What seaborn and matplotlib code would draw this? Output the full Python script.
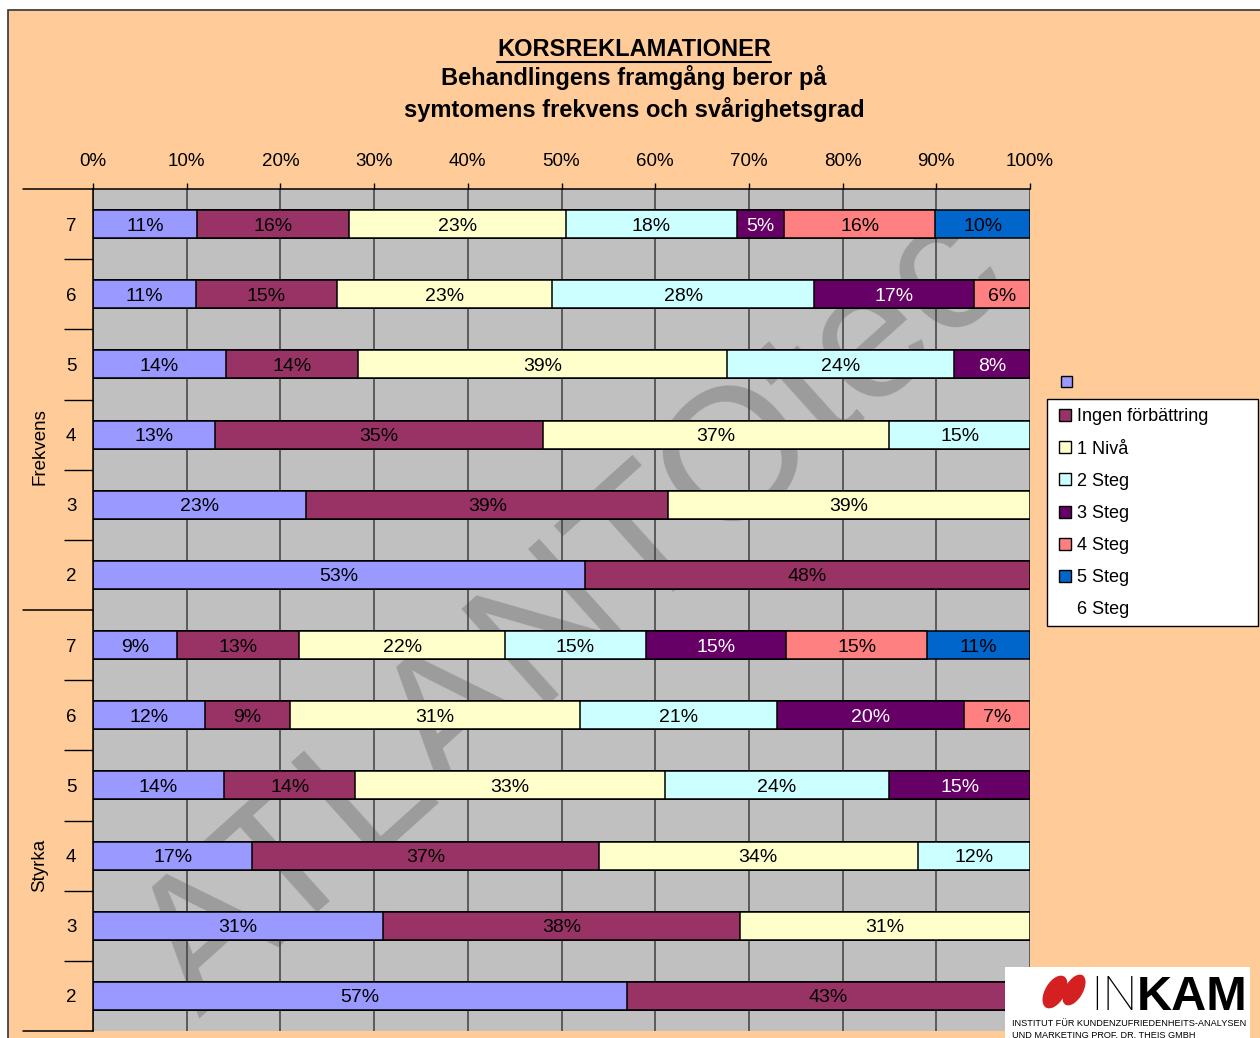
import pandas as pd
import matplotlib.pyplot as plt
import matplotlib.patches as mpatches
import matplotlib.transforms as mtransforms
from matplotlib.lines import Line2D
import seaborn as sns

sns.set_theme(style='white')
plt.rcParams['font.family'] = ['Liberation Sans', 'DejaVu Sans']
plt.rcParams.update({'text.color': 'black', 'axes.labelcolor': 'black',
                     'xtick.color': 'black', 'ytick.color': 'black'})

W, H = 1260, 1038

# rows from top to bottom: Frekvens 7..2, Styrka 7..2
rows = ['F7', 'F6', 'F5', 'F4', 'F3', 'F2', 'S7', 'S6', 'S5', 'S4', 'S3', 'S2']
row_labels = ['7', '6', '5', '4', '3', '2', '7', '6', '5', '4', '3', '2']

series_names = ['', 'Ingen förbättring', '1 Nivå', '2 Steg', '3 Steg', '4 Steg', '5 Steg', '6 Steg']
series_colors = ['#9999FF', '#993366', '#FFFFCC', '#CCFFFF', '#660066', '#FF8080', '#0066CC', 'none']

base = [11, 11, 14, 13, 23, 53, 9, 12, 14, 17, 31, 57]
ingen = [16, 15, 14, 35, 39, 48, 13, 9, 14, 37, 38, 43]
niva1 = [23, 23, 39, 37, 39, 0, 22, 31, 33, 34, 31, 0]
steg2 = [18, 28, 24, 15, 0, 0, 15, 21, 24, 12, 0, 0]
steg3 = [5, 17, 8, 0, 0, 0, 15, 20, 15, 0, 0, 0]
steg4 = [16, 6, 0, 0, 0, 0, 15, 7, 0, 0, 0, 0]
steg5 = [10, 0, 0, 0, 0, 0, 11, 0, 0, 0, 0, 0]
steg6 = [0] * 12

all_series = [base, ingen, niva1, steg2, steg3, steg4, steg5, steg6]

# long table with normalised cumulative shares (100% stacked)
recs = []
for k, vals in enumerate(all_series):
    for i, r in enumerate(rows):
        recs.append({'row': r, 'pos': i, 'k': k, 'value': vals[i]})
df = pd.DataFrame(recs)
df['share'] = df['value'] / df.groupby('row')['value'].transform('sum') * 100
df = df.sort_values(['pos', 'k'])
df['cum'] = df.groupby('row')['share'].cumsum()
df['start'] = df['cum'] - df['share']

fig = plt.figure(figsize=(W / 100, H / 100), dpi=100)
fig.patch.set_facecolor('white')
fig.patches.append(mpatches.Rectangle((8 / W, -0.01), 1.0, 1 - 10 / H + 0.01, transform=fig.transFigure,
                                      facecolor='#FFCC99', edgecolor='#333333', lw=1.2, zorder=-1))

ax = fig.add_axes([93 / W, 1 - 1031 / H, 937 / W, (1031 - 189) / H])
ax.set_facecolor('#C0C0C0')

# stacked bars: draw cumulative totals from the last series to the first
for k in reversed(range(7)):
    sub = df[df['k'] == k]
    sns.barplot(data=sub, x='cum', y='row', order=rows, color=series_colors[k], saturation=1,
                edgecolor='black', linewidth=1.1, width=0.4, orient='h', errorbar=None, ax=ax)

for _, r in df[df['value'] > 0].iterrows():
    ax.text(r['start'] + r['share'] / 2, r['pos'], f"{r['value']}%", ha='center', va='center_baseline',
            fontsize=14, color='white' if r['k'] == 4 else 'black', zorder=5)

# watermark
ax.text(0.514, 0.494, 'ATLANTOtec', transform=ax.transAxes, rotation=42, rotation_mode='anchor',
        fontsize=135, color='#9c9c9c', ha='center', va='center', zorder=0.3, clip_on=True)

ax.set_xlim(0, 100)
ax.set_ylim(11.5, -0.5)
ax.set_xlabel('')
ax.set_ylabel('')
ax.set_axisbelow(True)
ax.xaxis.grid(True, color='#404040', lw=1.1)
ax.yaxis.grid(False)
ax.xaxis.tick_top()
ax.set_xticks(range(0, 101, 10))
ax.set_xticklabels([f'{t}%' for t in range(0, 101, 10)], fontsize=13.5)
ax.tick_params(axis='x', top=True, length=4, width=1, color='black', pad=10)
ax.set_yticks(range(12))
ax.set_yticklabels(row_labels, fontsize=13.5)
ax.tick_params(axis='y', which='major', left=True, length=0, pad=12)
ax.set_yticks([0.5, 1.5, 2.5, 3.5, 4.5, 6.5, 7.5, 8.5, 9.5, 10.5], minor=True)
ax.tick_params(axis='y', which='minor', left=True, length=21, width=1, color='black')
for s in ['right', 'bottom']:
    ax.spines[s].set_visible(False)
for s in ['left', 'top']:
    ax.spines[s].set_color('black')
    ax.spines[s].set_linewidth(1.1)
for y in [-0.5, 5.5, 11.5]:
    ax.plot([-70 / 937, 0], [y, y], transform=ax.get_yaxis_transform(), color='black', lw=1.1, clip_on=False)

fig.text(40 / W, 1 - 447 / H, 'Frekvens', rotation=90, ha='center', va='center', fontsize=13.5)
fig.text(40 / W, 1 - 865 / H, 'Styrka', rotation=90, ha='center', va='center', fontsize=13.5)

# titles
t1 = fig.text(634 / W, 1 - 50 / H, 'KORSREKLAMATIONER', ha='center', va='center', fontsize=17, fontweight='bold')
fig.text(634 / W, 1 - 78 / H, 'Behandlingens framgång beror på', ha='center', va='center', fontsize=17, fontweight='bold')
fig.text(634 / W, 1 - 109 / H, 'symtomens frekvens och svårighetsgrad', ha='center', va='center', fontsize=17, fontweight='bold')

# legend
fig.patches.append(mpatches.Rectangle((1047 / W, 1 - 626 / H), (1258 - 1047) / W, (626 - 399) / H,
                                      transform=fig.transFigure, facecolor='white', edgecolor='black', lw=1))
fig.patches.append(mpatches.Rectangle((1061 / W, 1 - 387 / H), 11 / W, 11 / H, transform=fig.transFigure,
                                      facecolor=series_colors[0], edgecolor='black', lw=1))
handles = [mpatches.Patch(facecolor=c, edgecolor='black', lw=1) for c in series_colors[1:7]]
handles.append(mpatches.Patch(facecolor='none', edgecolor='none'))
fig.legend(handles, series_names[1:], loc='upper left', bbox_to_anchor=(1054 / W, 1 - 403 / H),
           frameon=False, fontsize=13, handlelength=0.65, handleheight=0.65, handletextpad=0.3,
           labelspacing=0.84, borderpad=0.3, borderaxespad=0)

# logo
fig.patches.append(mpatches.Rectangle((1005 / W, 0), 245 / W, (1038 - 967) / H, transform=fig.transFigure,
                                      facecolor='white', edgecolor='none', zorder=3))
ident = mtransforms.IdentityTransform()
fig.patches.append(mpatches.Ellipse((1055, H - 992), 20, 36, angle=-30, transform=ident,
                                    facecolor='#D42020', edgecolor='none', zorder=4))
fig.patches.append(mpatches.Ellipse((1074, H - 990), 18, 34, angle=-30, transform=ident,
                                    facecolor='#D42020', edgecolor='none', zorder=4))
fig.text(1090 / W, 1 - 1010 / H, 'IN', fontsize=35, family=['Roboto', 'DejaVu Sans'], fontweight='light',
         ha='left', va='baseline', zorder=5)
fig.text(1247 / W, 1 - 1010 / H, 'KAM', fontsize=35, fontweight='bold', ha='right', va='baseline', zorder=5)
fig.text(1012 / W, 1 - 1026 / H, 'INSTITUT FÜR KUNDENZUFRIEDENHEITS-ANALYSEN', fontsize=6.6, ha='left',
         va='baseline', zorder=5)
fig.text(1012 / W, 1 - 1038 / H, 'UND MARKETING PROF. DR. THEIS GMBH', fontsize=6.6, ha='left',
         va='baseline', zorder=5)

fig.canvas.draw()
bb = t1.get_window_extent()
fig.lines.append(Line2D([bb.x0 / W, bb.x1 / W], [1 - 62 / H, 1 - 62 / H], transform=fig.transFigure,
                        color='black', lw=1.5))

fig.savefig('out.png', dpi=100)
